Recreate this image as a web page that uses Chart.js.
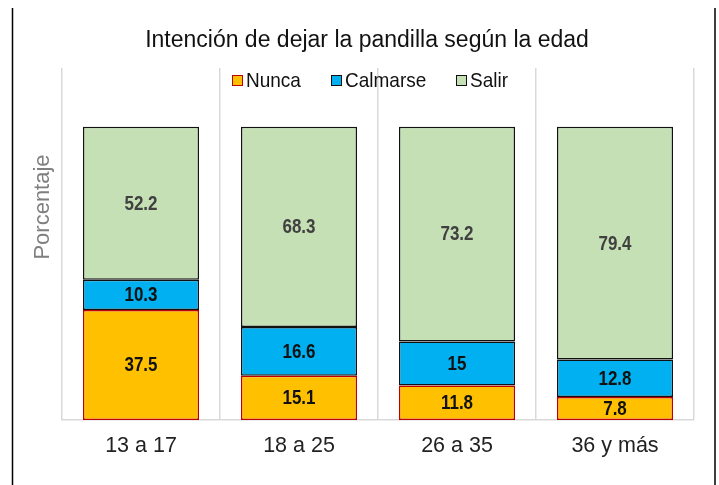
<!DOCTYPE html>
<html>
<head>
<meta charset="utf-8">
<script src="https://cdn.jsdelivr.net/npm/chart.js@4.4.1/dist/chart.umd.min.js"></script>
<style>
  html, body { margin: 0; padding: 0; background: #fff; }
  #wrap { width: 719px; height: 485px; position: relative; }
</style>
</head>
<body>
<div id="wrap"><canvas id="chart" width="719" height="485"></canvas></div>
<script>
// Datos
const categorias = ['13 a 17', '18 a 25', '26 a 35', '36 y más'];
const nunca = [37.5, 15.1, 11.8, 7.8];
const calmarse = [10.3, 16.6, 15, 12.8];
const salir = [52.2, 68.3, 73.2, 79.4];
const titulo = 'Intención de dejar la pandilla según la edad';
const tituloEje = 'Porcentaje';

const FONT = '"Liberation Sans", Arial, sans-serif';

// text drawn a bit taller than wide, like the original
function tallText(ctx, txt, x, y, sy) {
    ctx.save();
    ctx.translate(x, y);
    ctx.scale(1, sy);
    ctx.fillText(txt, 0, 0);
    ctx.restore();
}

// Title, legend, axis title, frame and value labels
const extras = {
    id: 'extras',
    afterDatasetsDraw(chart) {
        const ctx = chart.ctx;
        ctx.save();

        // value labels
        chart.data.datasets.forEach((ds, i) => {
            const meta = chart.getDatasetMeta(i);
            meta.data.forEach((bar, j) => {
                const mid = (bar.y + bar.base) / 2;
                ctx.font = 'bold 17px ' + FONT;
                ctx.fillStyle = ds.labelColor;
                ctx.textAlign = 'center';
                ctx.textBaseline = 'middle';
                tallText(ctx, String(ds.data[j]), bar.x, mid + 1, 1.15);
            });
        });

        // frame lines
        ctx.strokeStyle = '#000';
        ctx.lineWidth = 1.5;
        ctx.beginPath();
        ctx.moveTo(12.5, 8); ctx.lineTo(12.5, 485);
        ctx.moveTo(715, 8); ctx.lineTo(715, 485);
        ctx.stroke();

        // title
        ctx.fillStyle = '#111';
        ctx.font = '23px ' + FONT;
        ctx.textAlign = 'center';
        ctx.textBaseline = 'middle';
        tallText(ctx, titulo, 367, 40, 1.08);

        // axis title
        ctx.save();
        ctx.translate(43, 207);
        ctx.rotate(-Math.PI / 2);
        ctx.fillStyle = '#7f7f7f';
        ctx.font = '22px ' + FONT;
        ctx.fillText(tituloEje, 0, 0);
        ctx.restore();

        // legend
        const items = chart.data.datasets.map(ds => ({
            text: ds.label, fill: ds.backgroundColor, stroke: ds.borderColor
        }));
        const pos = [232, 331, 456];
        ctx.font = '19px ' + FONT;
        ctx.textAlign = 'left';
        items.forEach((it, k) => {
            const x = pos[k];
            ctx.fillStyle = it.fill;
            ctx.fillRect(x, 75, 11, 11);
            ctx.strokeStyle = it.stroke;
            ctx.lineWidth = 1;
            ctx.strokeRect(x + 0.5, 75.5, 10, 10);
            ctx.fillStyle = '#111';
            tallText(ctx, it.text, x + 14, 81, 1.1);
        });

        ctx.restore();
    }
};

const ctx = document.getElementById('chart').getContext('2d');
new Chart(ctx, {
    type: 'bar',
    data: {
        labels: categorias,
        datasets: [
            { label: 'Nunca', data: nunca, backgroundColor: '#FFC000', borderColor: '#C00000', labelColor: '#111' },
            { label: 'Calmarse', data: calmarse, backgroundColor: '#00B0F0', borderColor: '#111', labelColor: '#111' },
            { label: 'Salir', data: salir, backgroundColor: '#C5E0B4', borderColor: '#111', labelColor: '#404040' }
        ].map(d => Object.assign(d, {
            borderWidth: 1.5,
            borderSkipped: false,
            barPercentage: 0.735,
            categoryPercentage: 1
        }))
    },
    options: {
        responsive: false,
        animation: false,
        layout: {
            padding: { left: 62, right: 25, top: 68, bottom: 0 }
        },
        plugins: {
            legend: { display: false },
            title: { display: false },
            tooltip: { enabled: false }
        },
        scales: {
            x: {
                stacked: true,
                offset: true,
                grid: {
                    display: true,
                    offset: true,
                    color: '#d9d9d9',
                    lineWidth: 1.5,
                    drawTicks: false
                },
                border: { display: true, color: '#d9d9d9', width: 1.5 },
                ticks: {
                    color: '#222',
                    font: { family: FONT, size: 21.5 },
                    padding: 13
                },
                afterFit(scale) { scale.height = 65; }
            },
            y: {
                stacked: true,
                display: false,
                min: 0,
                max: 120
            }
        }
    },
    plugins: [extras]
});
</script>
</body>
</html>
